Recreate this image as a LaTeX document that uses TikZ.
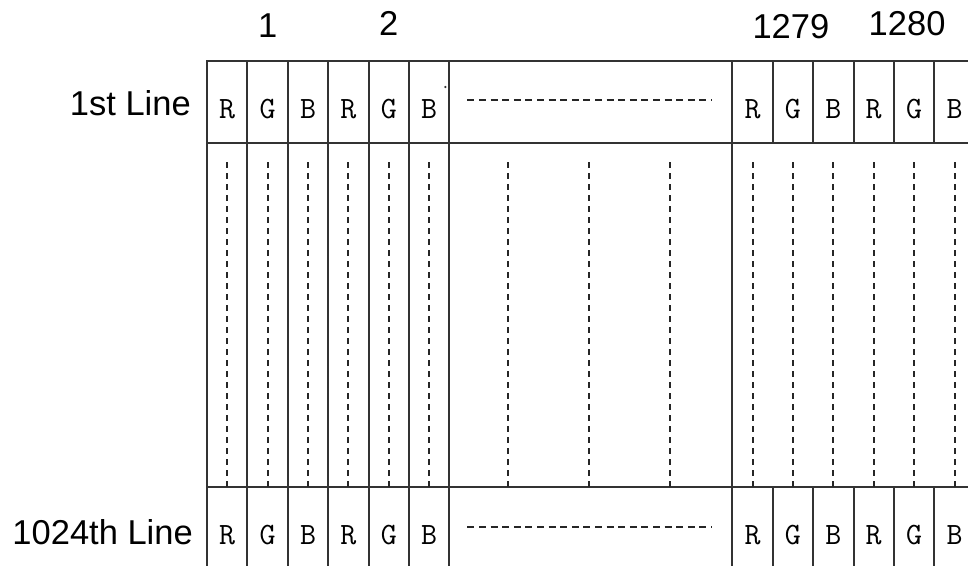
\documentclass[tikz,border=0pt]{standalone}
\usepackage{fontspec}
\usepackage{tikz}
\usetikzlibrary{positioning}
\newfontfamily\labelfont{Liberation Sans}
\tikzset{
  subpix/.style={
    rectangle, draw=black!80, line width=2pt,
    minimum width=40.4pt, minimum height=82pt,
    inner sep=0pt, outer sep=0pt,
    text height=57pt, text depth=25pt,
    font=\fontsize{31}{31}\ttfamily
  },
  gapcell/.style={subpix, minimum width=282.9pt},
  rowlabel/.style={anchor=base east, inner sep=0pt, font=\fontsize{34.5}{34.5}\labelfont},
  pixnum/.style={anchor=base, inner sep=0pt, font=\fontsize{34.5}{34.5}\labelfont},
  gridline/.style={draw=black!80, line width=2pt},
  vdash/.style={draw=black!85, line width=2pt, dash pattern=on 6pt off 5pt},
  hdash/.style={draw=black!85, line width=2pt, dash pattern=on 7pt off 4.6pt}
}

\begin{document}
\begin{tikzpicture}[x=1pt, y=-1pt, node distance=0pt]
  \useasboundingbox (0,0) rectangle (968,565);
  \fill[white] (0,0) rectangle (968,565);
  \clip (0,0) rectangle (968,565);

  % first line
  \node[subpix, anchor=north west] (t1) at (207,61) {R};
  \node[subpix, right=of t1] (t2) {G};
  \node[subpix, right=of t2] (t3) {B};
  \node[subpix, right=of t3] (t4) {R};
  \node[subpix, right=of t4] (t5) {G};
  \node[subpix, right=of t5] (t6) {B};
  \node[gapcell, right=of t6] (tgap) {};
  \node[subpix, right=of tgap] (t7) {R};
  \node[subpix, right=of t7] (t8) {G};
  \node[subpix, right=of t8] (t9) {B};
  \node[subpix, right=of t9] (t10) {R};
  \node[subpix, right=of t10] (t11) {G};
  \node[subpix, right=of t11] (t12) {B};

  % last line
  \node[subpix, anchor=north west] (b1) at (207,487) {R};
  \node[subpix, right=of b1] (b2) {G};
  \node[subpix, right=of b2] (b3) {B};
  \node[subpix, right=of b3] (b4) {R};
  \node[subpix, right=of b4] (b5) {G};
  \node[subpix, right=of b5] (b6) {B};
  \node[gapcell, right=of b6] (bgap) {};
  \node[subpix, right=of bgap] (b7) {R};
  \node[subpix, right=of b7] (b8) {G};
  \node[subpix, right=of b8] (b9) {B};
  \node[subpix, right=of b9] (b10) {R};
  \node[subpix, right=of b10] (b11) {G};
  \node[subpix, right=of b11] (b12) {B};

  % column borders and dashed columns in between
  \foreach \c in {1,...,6,gap,7,...,12}
    \draw[gridline] (t\c.south west) -- (b\c.north west);
  \draw[gridline] (t12.south east) -- (b12.north east);
  \foreach \c in {1,...,12}
    \draw[vdash] ([yshift=-19pt]t\c.south) -- (b\c.north);
  \foreach \dx in {59,140,221}
    \draw[vdash] ([xshift=\dx pt, yshift=-19pt]tgap.south west) -- ([xshift=\dx pt]bgap.north west);

  % skipped pixels
  \draw[hdash] ([xshift=18pt, yshift=2.5pt]tgap.west) -- ([xshift=-20pt, yshift=2.5pt]tgap.east);
  \draw[hdash] ([xshift=18pt, yshift=1.5pt]bgap.west) -- ([xshift=-20pt, yshift=1.5pt]bgap.east);
  \fill[black!80] ([xshift=-4pt, yshift=-26pt]t6.north east) circle (1.2pt);

  % labels
  \node[rowlabel] (first) at ([xshift=-16pt, yshift=3pt]t1.base west) {1st Line};
  \node[rowlabel] (last) at ([xshift=-14pt]b1.base west) {1024th Line};
  \node[pixnum] (n1) at ([yshift=24pt]t2.north) {1};
  \node[pixnum] (n2) at ([yshift=26pt]t5.north) {2};
  \node[pixnum] (n1279) at ([xshift=-2pt, yshift=23pt]t8.north) {1279};
  \node[pixnum] (n1280) at ([xshift=-7pt, yshift=26pt]t11.north) {1280};
\end{tikzpicture}
\end{document}
